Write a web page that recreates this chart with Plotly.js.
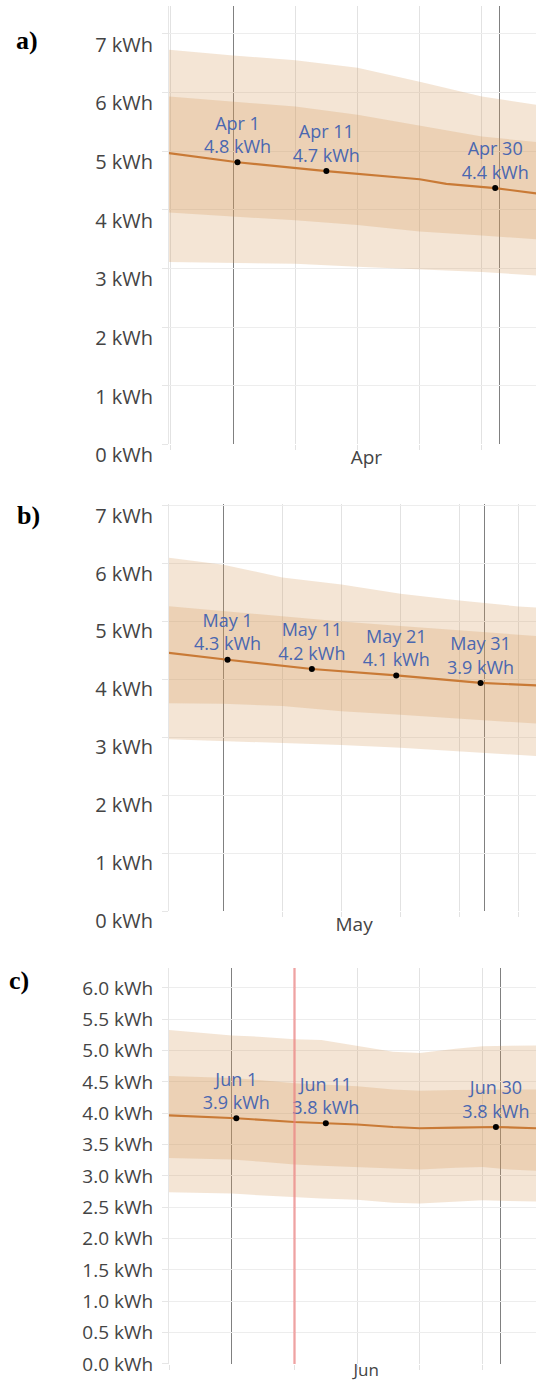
<!DOCTYPE html>
<html>
<head>
<meta charset="utf-8">
<script src="https://cdn.plot.ly/plotly-3.0.1.min.js"></script>
<style>
html,body{margin:0;padding:0;background:#fff;}
#chart{width:536px;height:1383px;}
</style>
</head>
<body>
<div id="chart"></div>
<script>
// ---------- Panel a (April) ----------
const aDates   = ['2024-03-24','2024-04-01','2024-04-08','2024-04-15','2024-04-22','2024-04-29','2024-05-06'];
const aOuterHi = [6.74,6.63,6.55,6.42,6.18,5.93,5.77];
const aInnerHi = [5.94,5.85,5.76,5.62,5.44,5.25,5.14];
const aInnerLo = [3.96,3.89,3.82,3.74,3.63,3.56,3.49];
const aOuterLo = [3.11,3.10,3.08,3.03,2.98,2.94,2.87];
const aLineDates = ['2024-03-24','2024-04-01 12:00','2024-04-11 12:00','2024-04-18','2024-04-22','2024-04-25','2024-04-30 12:00','2024-05-06'];
const aLine      = [4.98,4.81,4.66,4.57,4.52,4.44,4.37,4.26];
const aPointDates  = ['2024-04-01 12:00','2024-04-11 12:00','2024-04-30 12:00'];
const aPointLabels = ['Apr 1','Apr 11','Apr 30'];
const aPointValues = [4.81,4.66,4.37];

// ---------- Panel b (May) ----------
const bDates   = ['2024-04-24','2024-05-01','2024-05-08','2024-05-15','2024-05-22','2024-05-29','2024-06-05','2024-06-08'];
const bOuterHi = [6.11,5.98,5.76,5.64,5.48,5.36,5.26,5.23];
const bInnerHi = [5.27,5.18,5.08,5.00,4.92,4.84,4.77,4.74];
const bInnerLo = [3.59,3.58,3.54,3.45,3.39,3.33,3.26,3.23];
const bOuterLo = [2.97,2.94,2.91,2.87,2.82,2.76,2.70,2.67];
const bLineDates = ['2024-04-24','2024-05-01 12:00','2024-05-11 12:00','2024-05-21 12:00','2024-05-31 12:00','2024-06-08'];
const bLine      = [4.47,4.34,4.18,4.07,3.94,3.89];
const bPointDates  = ['2024-05-01 12:00','2024-05-11 12:00','2024-05-21 12:00','2024-05-31 12:00'];
const bPointLabels = ['May 1','May 11','May 21','May 31'];
const bPointValues = [4.34,4.18,4.07,3.94];

// ---------- Panel c (June) ----------
const cDates   = ['2024-05-24','2024-06-01','2024-06-04','2024-06-08','2024-06-11','2024-06-15','2024-06-19','2024-06-22','2024-06-26','2024-06-29','2024-07-02','2024-07-05'];
const cOuterHi = [5.34,5.24,5.22,5.18,5.17,5.08,4.98,4.96,5.03,5.07,5.08,5.08];
const cInnerHi = [4.60,4.56,4.53,4.48,4.46,4.43,4.38,4.36,4.37,4.38,4.38,4.38];
const cInnerLo = [3.29,3.26,3.23,3.18,3.16,3.14,3.11,3.10,3.13,3.14,3.10,3.08];
const cOuterLo = [2.74,2.72,2.69,2.66,2.64,2.62,2.57,2.56,2.59,2.61,2.60,2.59];
const cLineDates = ['2024-05-24','2024-06-01 12:00','2024-06-08','2024-06-11 12:00','2024-06-15','2024-06-19','2024-06-22','2024-06-26','2024-06-30 12:00','2024-07-05'];
const cLine      = [3.97,3.92,3.86,3.84,3.82,3.78,3.76,3.77,3.78,3.76];
const cPointDates  = ['2024-06-01 12:00','2024-06-11 12:00','2024-06-30 12:00'];
const cPointLabels = ['Jun 1','Jun 11','Jun 30'];
const cPointValues = [3.92,3.84,3.78];
const cToday = '2024-06-08';

const panelLetters = ['a)','b)','c)'];

// ---------- styling ----------
const BAND = 'rgba(212,150,88,0.25)';
const LINE = '#c97a36';
const LABEL_BLUE = '#4a67b0';
const FONT = '"Open Sans", sans-serif';

function panelTraces(xa, ya, dates, oHi, iHi, iLo, oLo, lDates, lVals, pDates, pLabels, pVals) {
  const base = {xaxis: xa, yaxis: ya, hoverinfo: 'skip', showlegend: false, mode: 'lines'};
  return [
    Object.assign({}, base, {x: dates, y: oHi, line: {width: 0, color: BAND}}),
    Object.assign({}, base, {x: dates, y: oLo, line: {width: 0, color: BAND}, fill: 'tonexty', fillcolor: BAND}),
    Object.assign({}, base, {x: dates, y: iHi, line: {width: 0, color: BAND}}),
    Object.assign({}, base, {x: dates, y: iLo, line: {width: 0, color: BAND}, fill: 'tonexty', fillcolor: BAND}),
    Object.assign({}, base, {x: lDates, y: lVals, line: {width: 2.2, color: LINE}}),
    Object.assign({}, base, {
      x: pDates, y: pVals, mode: 'markers+text',
      marker: {color: '#000', size: 6},
      text: pLabels.map((l, i) => l + '<br>' + pVals[i].toFixed(1) + ' kWh'),
      textposition: 'top center',
      textfont: {family: FONT, size: 18, color: LABEL_BLUE},
      cliponaxis: false
    })
  ];
}

const data = [].concat(
  panelTraces('x', 'y', aDates, aOuterHi, aInnerHi, aInnerLo, aOuterLo, aLineDates, aLine, aPointDates, aPointLabels, aPointValues),
  panelTraces('x2', 'y2', bDates, bOuterHi, bInnerHi, bInnerLo, bOuterLo, bLineDates, bLine, bPointDates, bPointLabels, bPointValues),
  panelTraces('x3', 'y3', cDates, cOuterHi, cInnerHi, cInnerLo, cOuterLo, cLineDates, cLine, cPointDates, cPointLabels, cPointValues)
);

const H = 1383, W = 536;
const xDom = [169 / W, 1];

function xAxis(range, weekStart, anchor, size, standoff) {
  return {
    type: 'date', range: range, domain: xDom, anchor: anchor,
    dtick: 'M1', tick0: '2024-01-01', ticklabelmode: 'period', tickformat: '%b',
    showgrid: true, gridcolor: '#808080', gridwidth: 1,
    ticks: '', zeroline: false, showline: false,
    ticklabelstandoff: standoff,
    tickfont: {family: FONT, size: size, color: '#444'},
    minor: {dtick: 7 * 86400000, tick0: weekStart, showgrid: true, gridcolor: '#e2e2e2', gridwidth: 1,
            ticks: 'outside', ticklen: 5, tickcolor: '#e2e2e2'},
    automargin: false, fixedrange: true
  };
}
function yAxis(topPx, botPx, range, dtick, fmt, shift, size, anchor) {
  return {
    domain: [1 - botPx / H, 1 - topPx / H], range: range, anchor: anchor,
    dtick: dtick, tick0: 0, tickformat: fmt, ticksuffix: ' kWh',
    showgrid: true, gridcolor: '#ededed', gridwidth: 1, zeroline: false,
    showline: true, linecolor: '#e6e6e6', linewidth: 1,
    ticks: 'outside', ticklen: 6, tickcolor: '#e6e6e6',
    ticklabelshift: shift, ticklabelstandoff: 5,
    tickfont: {family: FONT, size: size, color: '#444'},
    automargin: false, fixedrange: true
  };
}

const layout = {
  width: W, height: H,
  margin: {l: 0, r: 0, t: 0, b: 0},
  paper_bgcolor: '#fff', plot_bgcolor: '#fff',
  showlegend: false,
  xaxis:  xAxis(['2024-03-24 19:00', '2024-05-05 02:12'], '2024-03-25', 'y', 19, 0),
  xaxis2: xAxis(['2024-04-24 13:25', '2024-06-07 01:40'], '2024-05-01', 'y2', 19, 0),
  xaxis3: xAxis(['2024-05-24 23:30', '2024-07-04 23:30'], '2024-06-01', 'y3', 17, -6),
  yaxis:  yAxis(6.2, 444.4, [0, 7.47], 1, 'd', 11, 20, 'x'),
  yaxis2: yAxis(504.4, 911.3, [0, 7.02], 1, 'd', 10, 20, 'x2'),
  yaxis3: yAxis(968, 1363.9, [0, 6.317], 0.5, '.1f', 0, 19, 'x3'),
  shapes: [{
    type: 'line', xref: 'x3', yref: 'y3 domain', x0: cToday, x1: cToday, y0: 0, y1: 1,
    line: {color: 'rgba(240,130,130,0.65)', width: 2.5}, layer: 'above'
  }],
  annotations: [
    {x: 27 / W, y: 1 - 41 / H},
    {x: 28 / W, y: 1 - 515 / H},
    {x: 19 / W, y: 1 - 981 / H}
  ].map((p, i) => ({
    xref: 'paper', yref: 'paper', x: p.x, y: p.y, xanchor: 'center', yanchor: 'middle',
    text: '<b>' + panelLetters[i] + '</b>', showarrow: false,
    font: {family: '"Liberation Serif", "Times New Roman", serif', size: 26, color: '#000'}
  }))
};

Plotly.newPlot('chart', data, layout, {staticPlot: true, displayModeBar: false});
</script>
</body>
</html>
